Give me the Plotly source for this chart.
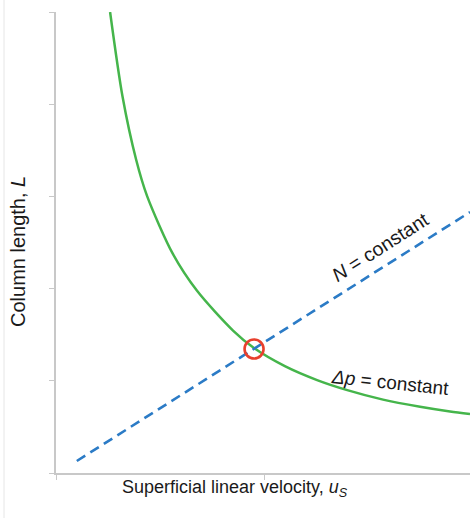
import plotly.graph_objects as go

# Constant pressure drop curve (L vs u_s), sampled along the curve
u_dp = [0.260, 0.320, 0.385, 0.4375, 0.5625, 0.678, 0.851, 0.950, 1.100,
        1.255, 1.400, 1.572, 1.750, 1.894, 1.990]
L_dp = [5.000, 4.080, 3.400, 3.006, 2.373, 1.976, 1.545, 1.358, 1.159,
        1.008, 0.899, 0.796, 0.719, 0.668, 0.641]

# Constant plate number line
u_n = [0.10, 1.99]
L_n = [0.13, 2.83]

# Operating point where both conditions meet
u_op = [0.952]
L_op = [1.345]

FONT = "Liberation Sans, Arial, sans-serif"
AXIS_GREY = "#c8c8c8"

fig = go.Figure()
fig.add_trace(go.Scatter(x=u_dp, y=L_dp, mode="lines", line_shape="spline",
                         line=dict(color="#45b54b", width=2.5, smoothing=0.8), hoverinfo="skip"))
fig.add_trace(go.Scatter(x=u_n, y=L_n, mode="lines",
                         line=dict(color="#2b7bc6", width=2.6, dash="10px,6px"), hoverinfo="skip"))
fig.add_trace(go.Scatter(x=u_op, y=L_op, mode="markers",
                         marker=dict(symbol="circle-open", size=19, color="#e8402d",
                                     line=dict(width=2.6, color="#e8402d")), hoverinfo="skip"))

axis_common = dict(showgrid=False, zeroline=False, showticklabels=False,
                   showline=True, linecolor=AXIS_GREY, linewidth=1.6,
                   ticks="outside", tickcolor=AXIS_GREY, tickwidth=1.3, ticklen=5)

fig.update_layout(
    width=470, height=518,
    margin=dict(l=56, r=0, t=12, b=45),
    paper_bgcolor="white", plot_bgcolor="white",
    showlegend=False,
    xaxis=dict(range=[0, 1.99], dtick=1, tick0=0, **axis_common),
    yaxis=dict(range=[0, 5], dtick=1, tick0=0, **axis_common),
    font=dict(family=FONT, color="#1a1a1a"),
    shapes=[
        # thin frame line along the left edge
        dict(type="line", xref="paper", yref="paper",
             x0=-(56 - 4) / 414, x1=-(56 - 4) / 414, y0=-45 / 461, y1=1 + 12 / 461,
             line=dict(color="#e6e6e6", width=1), layer="below"),
    ],
    annotations=[
        dict(text="Superficial linear velocity, <i>u<sub>S</sub></i>",
             xref="paper", yref="paper", x=(235 - 56) / 414, y=-(488 - 473) / 461,
             showarrow=False, font=dict(size=18, family=FONT), xanchor="center", yanchor="middle"),
        dict(text="Column length, <i>L</i>",
             xref="paper", yref="paper", x=-(56 - 18) / 414, y=(473 - 252) / 461,
             showarrow=False, textangle=-90, font=dict(size=20, family=FONT),
             xanchor="center", yanchor="middle"),
        dict(text="<i>N</i> = constant", xref="x", yref="y",
             x=(380 - 56) / 208, y=(473 - 247) / 92.2,
             showarrow=False, textangle=-32.5, font=dict(size=19.5, family=FONT),
             xanchor="center", yanchor="middle"),
        dict(text="<i>Δp</i> = constant", xref="x", yref="y",
             x=(390 - 56) / 208, y=(473 - 382) / 92.2,
             showarrow=False, textangle=6, font=dict(size=19, family=FONT),
             xanchor="center", yanchor="middle"),
    ],
)

fig.write_html("out.html")
